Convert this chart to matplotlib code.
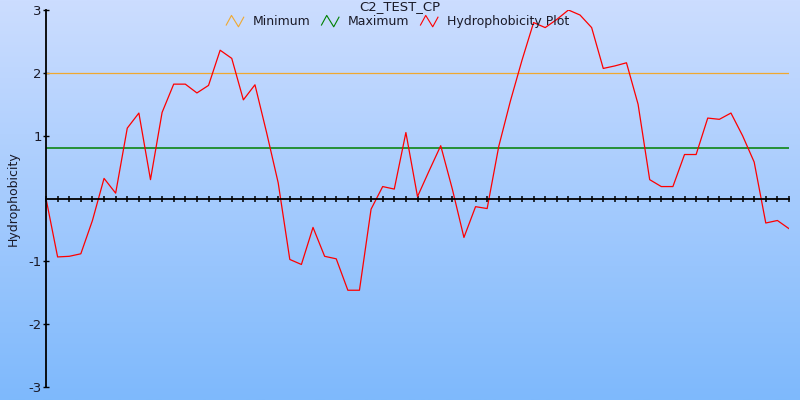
import numpy as np
import matplotlib
matplotlib.use("Agg")
import matplotlib.pyplot as plt
from matplotlib.legend_handler import HandlerBase
from matplotlib.lines import Line2D

title = "C2_TEST_CP"
ylabel = "Hydrophobicity"
minimum = 2.0
maximum = 0.81
hydro = [0.0, -0.93, -0.92, -0.88, -0.35, 0.32, 0.085, 1.12, 1.36, 0.30,
         1.37, 1.82, 1.82, 1.68, 1.80, 2.36, 2.23, 1.57, 1.81, 1.05,
         0.25, -0.97, -1.05, -0.46, -0.92, -0.96, -1.46, -1.46, -0.17, 0.19,
         0.15, 1.05, 0.03, 0.44, 0.84, 0.15, -0.62, -0.13, -0.16, 0.83,
         1.55, 2.2, 2.80, 2.72, 2.85, 3.0, 2.92, 2.72, 2.07, 2.11,
         2.16, 1.5, 0.30, 0.19, 0.19, 0.70, 0.70, 1.28, 1.26, 1.36,
         1.00, 0.58, -0.39, -0.35, -0.48]
yticks = [-3, -2, -1, 1, 2, 3]

x = np.arange(len(hydro))


class ZigZag(HandlerBase):
    def create_artists(self, legend, orig, xd, yd, w, h, fs, trans):
        xs = np.array([0.0, 0.3, 0.7, 1.0]) * w - xd
        ys = np.array([0.0, 1.1, -0.2, 0.9]) * h - yd
        ln = Line2D(xs, ys, color=orig.get_color(), lw=0.8, transform=trans)
        return [ln]


fig = plt.figure(figsize=(8, 4), dpi=100)

# gradient background over whole figure
bg = fig.add_axes([0, 0, 1, 1], zorder=-10)
top = np.array([204, 221, 255]) / 255
bot = np.array([126, 185, 252]) / 255
t = np.linspace(0, 1, 256)[:, None]
grad = top * (1 - t) + bot * t
bg.imshow(grad[:, None, :], aspect="auto", extent=[0, 1, 0, 1])
bg.axis("off")

ax = fig.add_axes([46 / 800, 13 / 400, 743 / 800, 377 / 400])
ax.patch.set_alpha(0)

l1, = ax.plot([0, len(hydro) - 1], [minimum, minimum], color="#f0a830", lw=0.9)
l2, = ax.plot([0, len(hydro) - 1], [maximum, maximum], color="#008000", lw=1.1)
l3, = ax.plot(x, hydro, color="red", lw=0.9)

ax.set_xlim(0, len(hydro) - 1)
ax.set_ylim(-3, 3)

for s in ["top", "right"]:
    ax.spines[s].set_visible(False)
ax.spines["bottom"].set_position(("data", 0))
ax.spines["bottom"].set_linewidth(1.3)
ax.spines["left"].set_linewidth(1.3)

ax.set_xticks(x)
ax.set_xticklabels([])
ax.tick_params(axis="x", direction="inout", length=4.5, width=1.1)
ax.set_yticks(yticks)
ax.set_yticklabels([str(v) for v in yticks])
ax.tick_params(axis="y", direction="inout", length=4, width=1, labelsize=9.5,
               pad=1, labelcolor="#1a1a28")
ax.set_ylabel(ylabel, fontsize=9, color="#1a1a28", labelpad=6)

fig.text(0.5, 1.0, title, ha="center", va="top", fontsize=9.5, color="#1a1a28")
fig.legend([l1, l2, l3], ["Minimum", "Maximum", "Hydrophobicity Plot"],
           handler_map={Line2D: ZigZag()}, loc="upper center",
           bbox_to_anchor=(0.497, 0.978), ncol=3, frameon=False, fontsize=9,
           handlelength=1.4, handletextpad=0.7, columnspacing=0.9,
           borderpad=0, labelcolor="#1a1a28")

fig.savefig("out.png", dpi=100)
